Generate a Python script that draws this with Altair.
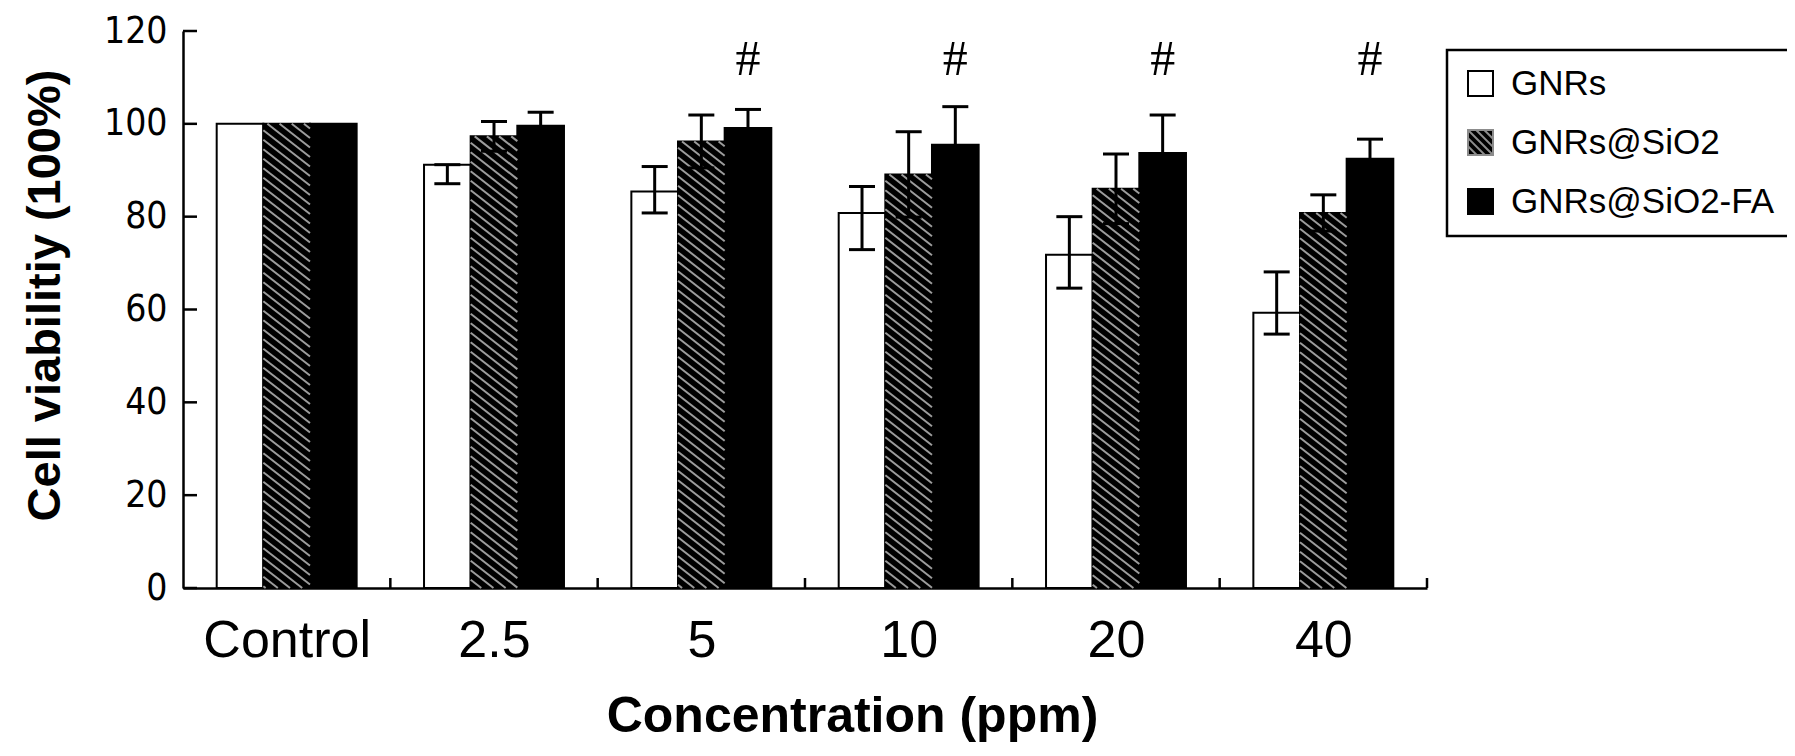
import json

import altair as alt
import pandas as pd

# values
conc = ["Control", "2.5", "5", "10", "20", "40"]
series = ["GNRs", "GNRs@SiO2", "GNRs@SiO2-FA"]

gnrs_mean = [100, 91.2, 85.4, 80.8, 71.8, 59.3]
gnrs_lo = [None, 87.1, 80.8, 72.9, 64.6, 54.7]
gnrs_hi = [None, 91.2, 90.8, 86.5, 80.0, 68.1]

sio2_mean = [100, 97.3, 96.2, 89.1, 86.0, 80.8]
sio2_lo = [None, 94.1, 90.5, 79.9, 78.5, 76.9]
sio2_hi = [None, 100.5, 101.9, 98.3, 93.5, 84.7]

fa_mean = [100, 99.6, 99.1, 95.5, 93.7, 92.5]
fa_lo = [None, 96.7, 95.1, 87.3, 85.5, 88.3]
fa_hi = [None, 102.5, 103.1, 103.7, 101.9, 96.7]

signif = ["", "", "#", "#", "#", "#"]
signif_level = 113.8
y_ticks = [0, 20, 40, 60, 80, 100, 120]

# layout
W, H = 1244, 557
NG = len(conc)
PX_X = W / NG
PX_Y = H / 120
BAR = 0.225
OFF = (1 - 3 * BAR) / 2
DROP = 0.78 * BAR * PX_X / PX_Y   # hatch drop across one bar, in y units
STEP = 9.5 / PX_Y                 # hatch spacing
CAP = 13 / PX_X
YTICK = 14 / PX_X
XTICK = 10 / PX_Y

means = [gnrs_mean, sio2_mean, fa_mean]
lows = [gnrs_lo, sio2_lo, fa_lo]
highs = [gnrs_hi, sio2_hi, fa_hi]

bars = pd.DataFrame(
    [
        {"g": g, "s": s, "series": series[s], "mean": means[s][g],
         "lo": lows[s][g], "hi": highs[s][g]}
        for g in range(NG)
        for s in range(3)
    ]
)
hashes = pd.DataFrame({"g": list(range(NG)), "mark": signif})
yt = pd.DataFrame({"v": y_ticks})
xt = pd.DataFrame({"b": list(range(1, NG + 1))})

FONT = "Liberation Sans"
NARROW = "Liberation Sans Narrow, DejaVu Sans Condensed, Liberation Sans, sans-serif"
xscale = alt.Scale(domain=[0, NG], nice=False, zero=False)
yscale = alt.Scale(domain=[0, 120], nice=False, zero=False)


def xq(field, **kw):
    kw.setdefault("axis", None)
    return alt.X(field, type="quantitative", scale=xscale, **kw)


def yq(field, **kw):
    kw.setdefault("axis", None)
    return alt.Y(field, type="quantitative", scale=yscale, **kw)


base = alt.Chart(bars).transform_calculate(
    x=f"datum.g + {OFF} + datum.s * {BAR}",
    x2=f"datum.g + {OFF} + (datum.s + 1) * {BAR}",
    xc=f"datum.g + {OFF} + (datum.s + 0.5) * {BAR}",
    color="['white', 'black', 'black'][datum.s]",
)

label_expr = f"{json.dumps(conc)}[floor(datum.value)]"

rects = base.mark_rect(stroke="black", strokeWidth=2).encode(
    x=xq(
        "x",
        axis=alt.Axis(
            values=[i + 0.5 for i in range(NG)],
            labelExpr=label_expr,
            ticks=False,
            grid=False,
            domainColor="black",
            domainWidth=2.5,
            labelFont=FONT,
            labelFontSize=52,
            labelColor="black",
            labelPadding=27,
            title="Concentration (ppm)",
            titleFont=FONT,
            titleFontSize=50,
            titleFontWeight="bold",
            titleColor="black",
            titleX=669,
            titleY=128,
            titleAlign="center",
            titleBaseline="middle",
        ),
    ),
    x2="x2:Q",
    y=yq(
        "mean",
        axis=alt.Axis(
            values=y_ticks,
            ticks=False,
            grid=False,
            domainColor="black",
            domainWidth=2.5,
            labelFont=NARROW,
            labelFontSize=37,
            labelColor="black",
            labelPadding=16,
            title="Cell viabilitiy (100%)",
            titleFont=FONT,
            titleFontSize=47,
            titleFontWeight="bold",
            titleColor="black",
            titleAngle=270,
            titleX=-138,
            titleY=264,
            titleAlign="center",
            titleBaseline="middle",
        ),
    ),
    y2=alt.datum(0),
    fill=alt.Fill("color:N", scale=None),
)

# diagonal hatching of the GNRs@SiO2 bars
hatch = (
    base.transform_filter("datum.s == 1")
    .transform_calculate(k=f"sequence(0, ceil((datum.mean + {DROP}) / {STEP}))")
    .transform_flatten(["k"])
    .transform_calculate(c=f"datum.mean + {DROP} - (datum.k + 0.5) * {STEP}")
    .transform_filter("datum.c > 0")
    .transform_calculate(
        hx1=f"datum.c <= datum.mean ? datum.x : datum.x + (datum.c - datum.mean) / {DROP} * {BAR}",
        hy1="min(datum.c, datum.mean)",
        hx2=f"datum.c - {DROP} >= 0 ? datum.x2 : datum.x + datum.c / {DROP} * {BAR}",
        hy2=f"max(datum.c - {DROP}, 0)",
    )
    .mark_rule(color="#9c9c9c", strokeWidth=2)
    .encode(x=xq("hx1"), x2="hx2:Q", y=yq("hy1"), y2="hy2:Q")
)

err_base = base.transform_filter("isValid(datum.lo)")
whisk = err_base.mark_rule(color="black", strokeWidth=3).encode(
    x=xq("xc"), y=yq("lo"), y2="hi:Q"
)
cap_hi = err_base.transform_calculate(
    c1=f"datum.xc - {CAP}", c2=f"datum.xc + {CAP}"
).mark_rule(color="black", strokeWidth=3).encode(x=xq("c1"), x2="c2:Q", y=yq("hi"))
cap_lo = err_base.transform_calculate(
    c1=f"datum.xc - {CAP}", c2=f"datum.xc + {CAP}"
).mark_rule(color="black", strokeWidth=3).encode(x=xq("c1"), x2="c2:Q", y=yq("lo"))

hash_text = (
    alt.Chart(hashes)
    .transform_filter("datum.mark != ''")
    .transform_calculate(hx=f"datum.g + {OFF} + 2.5 * {BAR}", hy=str(signif_level))
    .mark_text(font="Liberation Serif", fontSize=50, color="black", baseline="middle")
    .encode(x=xq("hx"), y=yq("hy"), text="mark:N")
)

# inward ticks
yticks = (
    alt.Chart(yt)
    .transform_calculate(t0="0", t1=str(YTICK))
    .mark_rule(color="black", strokeWidth=2.5)
    .encode(x=xq("t0"), x2="t1:Q", y=yq("v"))
)
xticks = (
    alt.Chart(xt)
    .transform_calculate(t0="0", t1=str(XTICK))
    .mark_rule(color="black", strokeWidth=2.5)
    .encode(x=xq("b"), y=yq("t0"), y2="t1:Q")
)

SQ = "M-1,-1H1V1H-1Z"
HATCH = SQ + "M-1,-1L1,1M-0.35,-1L1,0.35M-1,-0.35L0.35,1M0.3,-1L1,-0.3M-1,0.3L-0.3,1"
legend = alt.Legend(
    orient="none",
    legendX=1264,
    legendY=19,
    title=None,
    labelFont=FONT,
    labelFontSize=35,
    labelColor="black",
    labelLimit=0,
    labelOffset=13,
    symbolSize=625,
    symbolStrokeWidth=2,
    rowPadding=23,
    padding=16,
    strokeColor="black",
)
key = (
    alt.Chart(bars)
    .transform_filter("false")
    .mark_point(opacity=1, strokeWidth=2)
    .encode(
        fill=alt.Fill("series:N", scale=alt.Scale(domain=series, range=["white", "black", "black"]), legend=legend),
        stroke=alt.Stroke("series:N", scale=alt.Scale(domain=series, range=["black", "#8c8c8c", "black"]), legend=legend),
        shape=alt.Shape("series:N", scale=alt.Scale(domain=series, range=[SQ, HATCH, SQ]), legend=legend),
    )
)

chart = (
    alt.layer(rects, hatch, whisk, cap_hi, cap_lo, hash_text, yticks, xticks, key)
    .resolve_axis(x="independent", y="independent")
    .properties(
        width=W,
        height=H,
        autosize=alt.AutoSizeParams(type="none"),
        padding={"left": 175, "top": 23, "right": 360, "bottom": 165},
        background="white",
    )
    .configure_view(stroke=None)
    .configure_legend(strokeWidth=2.5)
)

chart.save("out.html", embed_options={"renderer": "svg", "actions": False})
